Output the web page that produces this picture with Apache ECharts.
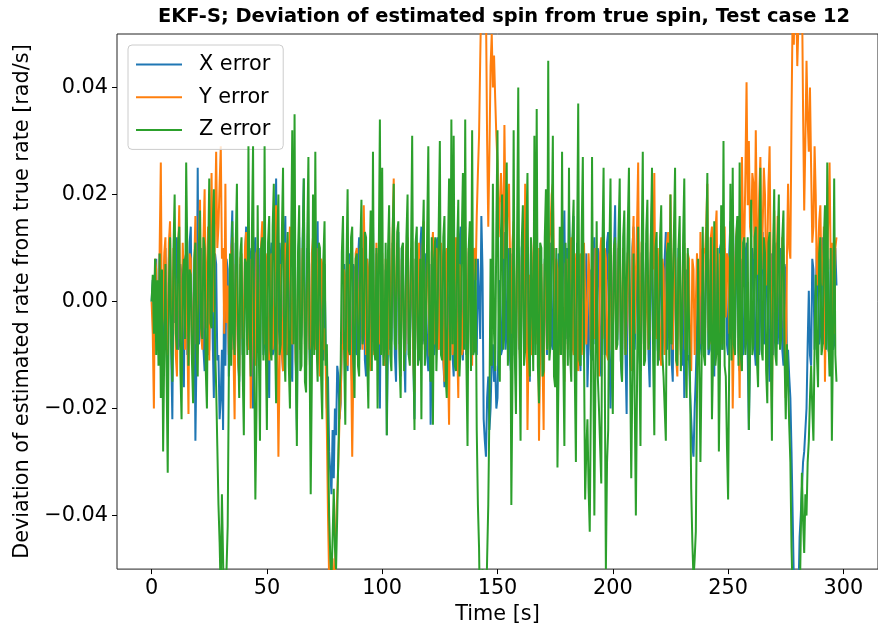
<!DOCTYPE html>
<html>
<head>
<meta charset="utf-8">
<script src="https://cdn.jsdelivr.net/npm/echarts@6/dist/echarts.min.js"></script>
<style>
html,body{margin:0;padding:0;background:#fff;}
#chart{width:878px;height:630px;}
</style>
</head>
<body>
<div id="chart"></div>
<script>
const titleText = 'EKF-S; Deviation of estimated spin from true spin, Test case 12';
const xAxisName = 'Time [s]';
const yAxisName = 'Deviation of estimated rate from true rate [rad/s]';
const seriesNames = ['X error', 'Y error', 'Z error'];
const xTickValues = [0, 50, 100, 150, 200, 250, 300];
const yTickValues = [-0.04, -0.02, 0.00, 0.02, 0.04];
const timeStart = 0;
const timeStep = 0.5;

const xError = [
0,.004,-.003,.006,.008,-.007,-.005,.009,.006,-.008,-.009,.007,.010,-.006,-.014,.008,.013,-.009,-.022,.006,
-.004,.010,.012,-.009,-.008,.007,.005,-.011,-.016,.008,.009,-.010,-.003,.011,.014,-.008,-.011,.006,-.026,-.009,
.025,-.008,-.006,.010,.010,-.009,-.013,.007,.004,-.010,-.009,.011,.015,-.007,-.018,.009,.007,-.011,-.010,-.022,
-.018,-.009,-.024,.006,-.012,.008,.006,-.014,-.008,.010,.017,-.009,-.005,.011,.011,-.010,-.015,.007,.003,-.010,
-.009,.008,.014,-.007,-.006,.010,.008,-.011,-.020,.009,.012,-.008,-.003,.010,-.014,.007,.009,-.010,-.007,.008,
.005,-.009,-.018,.008,.011,-.010,-.009,.007,.023,-.008,-.004,.011,.007,-.009,-.013,.010,.016,-.007,-.010,.009,
.002,-.011,-.015,.009,.009,-.010,-.024,.008,.012,-.009,-.006,.011,.023,-.008,-.011,.010,.004,-.009,-.017,.007,
.010,-.008,-.008,.009,.015,-.010,-.012,.006,.003,-.011,.007,-.009,-.020,-.014,-.028,-.032,-.036,-.024,-.033,-.020,
-.025,-.012,-.014,-.022,-.019,-.006,-.008,.007,.003,-.010,-.013,.008,.009,-.011,-.016,.007,.006,-.009,-.010,.008,
.012,-.009,-.005,.010,.008,-.011,-.014,.008,.004,-.010,-.009,.011,.015,-.008,-.006,.009,.002,-.011,-.020,.006,
.007,-.009,-.012,.006,-.025,-.008,.010,-.009,-.007,.011,.005,-.010,-.015,.009,.013,-.008,-.004,.010,.008,-.009,
-.017,.008,.011,-.010,-.009,.009,.003,-.011,-.022,.008,.006,-.009,-.011,.010,.014,-.008,-.006,.009,.009,-.010,
-.013,.007,-.023,-.009,.005,-.010,-.008,.011,.012,-.009,-.004,.010,.007,-.011,-.016,.008,.010,-.009,-.002,.010,
.006,-.010,-.014,.008,.009,-.009,-.005,.011,.014,-.008,-.011,.009,.003,-.010,-.008,.009,.012,-.010,-.006,.008,
.005,-.009,-.010,.008,.008,-.007,.016,.006,-.022,-.026,-.029,-.018,-.014,-.024,-.020,-.011,-.008,-.015,-.012,-.020,
-.018,-.006,.004,-.010,-.009,.008,.013,-.009,-.005,.010,.008,-.011,-.014,.009,.006,-.010,-.011,.008,.010,-.009,
-.007,.010,.012,-.009,-.004,.008,.009,-.011,-.015,.009,.005,-.010,-.010,.011,.013,-.008,-.006,.010,.003,-.009,
-.012,.008,.008,-.010,-.003,.009,.011,-.008,-.009,.010,.004,-.011,-.014,.009,.007,-.010,-.002,.008,.017,-.007,
.010,-.008,.017,.006,-.006,.010,.016,-.009,-.008,.011,.005,-.010,-.013,.008,.009,-.011,-.004,.009,-.016,-.008,
.006,-.010,-.011,.009,.012,-.008,-.005,.010,.008,-.011,-.014,.009,.003,-.010,-.008,.011,.013,-.009,-.020,-.010,
-.010,.009,.018,-.008,-.007,.010,.009,-.011,-.015,.008,.004,-.010,-.021,.009,.011,-.008,-.005,.010,.014,-.009,
-.009,.008,.006,-.010,-.013,.009,.010,-.008,-.003,.011,.007,-.010,-.016,.009,.012,-.008,-.006,.010,.002,-.009,
-.011,.009,.008,-.010,-.004,.008,.013,-.009,-.009,.010,.005,-.011,-.015,.009,.010,-.008,-.007,.010,.004,-.009,
-.012,.006,-.018,-.008,.006,-.011,-.010,-.017,-.022,-.027,-.029,-.020,-.014,-.005,.003,-.010,-.008,.009,.010,-.008,
-.005,.009,.012,-.010,-.009,.008,.004,-.011,-.014,.009,.008,-.010,-.006,.010,.011,-.009,-.003,.010,.007,-.008,
-.010,.009,.015,-.007,.018,.005,-.007,.010,.009,-.009,-.013,.008,.005,-.010,-.008,.009,.011,-.010,-.024,-.009,
-.004,.010,.008,-.009,-.012,.008,.006,-.010,-.010,.009,.013,-.008,-.006,.010,.003,-.009,-.015,.008,.009,-.010,
-.007,.009,.011,-.008,-.003,.010,.008,-.009,-.012,.007,.005,-.010,-.009,-.014,-.018,-.028,-.040,-.052,-.058,-.066,
-.062,-.055,-.044,-.040,-.035,-.030,-.028,-.024,-.020,-.008,.002,-.010,-.012,.008,.006,-.009,-.009,.010,.010,-.008,
-.006,.009,.012,-.008,-.004,.010,.008,-.009,-.010,.008,.005,-.009,-.008,.010,.003
];

const yError = [
0,-.006,-.020,.008,.006,-.009,-.008,.010,.026,-.005,-.003,.009,.012,-.008,-.010,.011,.015,-.007,-.005,.010,
.009,-.010,-.014,.008,.018,-.007,-.006,.011,.004,-.009,.013,-.006,-.021,.009,.008,-.010,-.012,.007,.016,-.008,
-.007,.011,.019,-.006,-.009,.012,.021,-.005,.005,.014,-.011,.008,.024,.006,-.002,.015,.028,.010,.014,.022,
.029,.008,.010,-.006,.022,-.004,.003,-.010,-.008,.009,.012,-.009,-.022,.007,.006,-.011,-.014,.008,.009,-.007,
-.005,.010,.013,-.008,-.009,.008,-.020,-.007,.007,-.010,-.012,.009,.010,-.008,-.004,.011,.015,-.006,-.008,.009,
.006,-.010,-.011,.008,.009,-.009,-.006,.010,.018,-.008,-.029,-.012,.007,-.009,-.013,.008,.011,-.010,-.005,.009,
.014,-.007,-.008,.010,.004,-.011,-.016,.007,.010,-.009,-.003,.010,.008,-.010,-.012,.008,.005,-.009,-.007,.009,
.012,-.008,-.009,.010,.003,-.010,-.014,.008,.007,-.009,-.005,-.012,-.024,-.040,-.052,-.058,-.060,-.048,-.055,-.050,
-.042,-.036,-.030,-.022,-.018,-.008,-.009,.006,.004,-.010,-.012,.007,.006,-.010,-.029,-.012,-.008,.009,.010,-.007,
-.003,.010,.007,-.009,.018,.006,-.010,.008,.005,-.011,-.013,.007,.008,-.010,-.004,.011,.011,-.008,-.006,.010,
.009,-.009,-.012,.008,.004,-.010,.014,-.007,-.007,.012,.023,-.005,-.002,.011,.010,-.009,-.014,.008,.006,-.010,
-.009,.010,.012,-.008,-.005,.010,.008,-.011,-.017,.008,.003,-.009,.011,-.007,-.008,.010,.015,-.009,-.004,.010,
.007,-.010,-.011,.009,.013,-.008,-.006,.010,.009,-.009,-.003,.011,.005,-.010,-.015,.008,.010,-.011,-.023,.006,
.004,-.010,-.007,.010,.012,-.008,-.018,.007,.006,-.010,-.009,.009,.014,-.008,-.005,.010,.008,-.009,-.012,.009,
.010,.004,.016,.024,.031,.045,.058,.065,.062,.060,.055,.030,.014,.028,.044,.050,.040,.046,.038,.031,
.026,.012,.012,.024,.018,.008,.033,.015,.009,.020,.022,.006,-.006,.011,.015,-.004,-.010,.009,.008,-.008,
-.014,.008,.011,-.007,.022,.006,-.024,-.008,.005,-.010,-.009,.009,.013,-.008,-.004,.010,-.026,-.009,.007,-.010,
-.024,.007,.010,-.009,-.007,.011,.014,.020,.022,.005,-.012,.008,.006,-.010,-.003,.009,.009,-.008,-.015,.007,
.008,-.009,-.005,.010,.012,-.008,-.010,.009,.004,-.011,-.013,.008,.009,-.010,-.006,.011,.011,-.008,-.008,.009,
.003,-.009,.012,-.006,-.007,.010,.010,-.008,-.014,.009,.012,-.007,-.004,.010,.008,-.010,-.011,.009,.006,-.009,
-.008,.010,.011,-.009,-.005,.010,.014,-.007,-.009,.010,.007,-.010,-.003,.009,.010,-.011,-.013,.008,.016,-.006,
.005,.014,.026,-.004,-.006,.011,.012,-.009,-.010,.008,.008,-.009,-.004,.012,.019,.006,.024,-.003,-.007,.010,
.010,-.009,-.012,.008,.006,-.010,-.003,.011,.013,-.004,.020,.005,-.009,.010,.005,-.011,-.014,.008,.009,-.010,
-.006,.010,.011,-.009,-.004,.009,.008,-.011,-.013,.008,.006,-.010,-.010,.009,.003,-.008,.013,.004,-.005,.010,
.009,.014,.022,-.005,-.008,.012,.014,-.004,-.006,.013,.017,-.003,-.011,.009,.005,-.008,.010,.014,-.003,.009,
.008,-.006,.013,.003,-.020,-.005,.006,.012,.015,-.004,-.018,.009,.027,.012,.010,.024,.041,.018,.030,.014,
.012,.024,.022,.008,.032,.014,.005,.020,.027,.006,.014,.025,.020,.003,.009,.022,.029,.004,-.020,.006,
.017,-.002,.006,.016,.013,-.004,-.005,.012,.010,-.006,-.018,.008,.022,.010,.008,.035,.055,.048,.063,.058,
.044,.052,.058,.064,.060,.036,.017,.030,.045,.034,.028,.040,.025,.011,.014,.029,.020,.003,.008,.015,
.018,.004,.003,.014,-.015,.002,.009,.016,.026,.006,.011,-.004,-.006,.010,.012
];

const zError = [
0,.005,-.006,.008,-.010,.004,-.012,.009,-.018,.006,-.028,-.009,.007,-.014,-.032,.003,.012,-.008,-.015,.010,
.020,-.006,-.009,.011,.014,-.013,-.022,.004,.008,-.007,.026,.009,-.012,.006,.005,-.011,-.019,.008,.011,-.009,
-.014,.010,.017,-.005,-.007,.012,.010,-.013,-.020,.007,.023,-.004,-.005,.014,.021,-.008,-.016,-.027,-.038,-.045,
-.055,-.036,-.048,-.060,-.058,-.050,-.042,-.014,.009,-.012,.015,-.006,-.010,.011,.022,-.007,-.018,.009,.012,-.013,
-.025,.008,.007,-.010,.029,-.005,-.014,.013,.029,-.012,-.037,-.020,.018,-.009,-.026,.010,.012,-.011,.029,-.008,
-.024,.011,.016,-.009,-.011,.014,.022,-.006,-.019,.012,.020,-.010,-.008,.013,.025,-.009,-.015,.007,.013,-.012,
-.020,.010,.032,-.008,.035,-.011,-.027,.009,.018,-.013,-.012,.010,.023,-.015,-.017,.012,.027,-.009,-.036,-.014,
.020,-.010,.028,-.007,-.015,.011,.010,-.014,-.022,.008,.015,-.012,-.008,-.025,-.040,-.048,-.052,-.044,-.035,-.046,
-.050,-.040,-.028,-.018,-.012,.009,.016,-.010,-.023,.007,.021,-.009,-.010,.012,.014,-.011,-.018,.008,.009,-.012,
-.014,.010,.019,-.008,-.006,.013,.012,-.011,-.020,.006,.017,-.013,.028,-.009,-.011,.010,-.020,.008,.034,-.010,
.025,-.012,-.008,.011,-.025,.009,.018,-.010,-.013,.012,.022,-.008,-.009,.013,.015,-.011,-.018,.010,.011,-.013,
-.006,.012,.020,-.010,-.012,.009,.031,-.008,-.024,.011,.014,-.012,-.010,.008,-.022,.010,.019,-.012,-.007,.013,
.029,-.009,-.015,.012,-.023,.008,.012,-.013,-.004,.014,.030,-.010,-.011,.012,.016,-.014,-.018,.009,.023,-.011,
.034,-.008,.031,-.012,-.013,.010,.019,-.014,-.008,.012,.024,-.009,.034,-.011,-.027,.010,.015,-.013,.032,-.010,
-.009,.008,-.024,-.038,-.046,-.062,-.058,-.050,-.055,-.064,-.060,-.048,-.038,-.020,.008,-.012,.022,-.006,-.013,.014,
.032,-.011,-.015,.013,.020,-.009,-.006,.014,.026,-.012,-.012,.010,-.038,-.014,.032,-.010,-.021,.012,.040,-.009,
-.026,.011,.018,-.012,-.009,.013,.024,-.008,-.014,.012,.012,-.013,.031,-.010,.036,-.012,-.019,.011,.010,-.014,
-.013,.012,.021,-.009,.045,-.011,-.008,.013,.031,-.014,-.016,.010,-.031,-.012,.014,-.010,.028,-.009,-.027,.011,
.011,-.012,.025,-.010,-.015,.012,.019,-.013,-.030,.009,.037,-.011,-.012,.013,.027,-.009,-.037,-.028,-.022,-.035,
-.043,-.018,.027,-.010,-.040,-.012,.015,-.014,-.020,-.027,-.034,.010,.025,-.012,-.050,-.030,-.024,.009,.023,-.011,
-.021,.010,.012,-.009,-.008,.013,.023,-.011,-.015,.012,.017,-.010,-.010,.014,.025,-.012,-.033,-.014,.009,-.018,
-.040,-.016,.014,-.010,-.027,.009,.028,-.012,-.011,.013,.019,-.009,-.006,.012,.025,-.011,-.025,.010,.013,-.012,
-.009,.012,.018,-.010,-.014,-.020,-.026,.009,.011,-.012,.020,-.008,-.008,.013,.025,-.011,-.012,.010,.016,-.013,
-.006,.012,.023,-.009,-.018,.010,.010,-.015,-.035,-.045,-.052,-.048,-.043,-.018,.008,-.012,-.030,-.012,.014,-.010,
-.012,.011,.024,-.009,-.007,.012,-.022,-.010,.015,-.012,-.009,.010,-.028,-.011,.018,-.009,.030,-.012,-.014,-.027,
-.037,-.010,.022,-.011,.025,-.008,-.010,.012,.016,-.012,.026,-.010,-.013,.011,.012,-.010,-.006,.012,-.024,-.009,
.019,-.010,-.008,.012,.014,-.011,-.016,.010,.025,-.009,-.011,.012,.009,-.013,-.019,.011,.013,-.010,-.026,.009,
.021,-.010,-.012,.011,.020,-.009,-.007,.012,.017,-.011,-.022,-.008,-.014,-.023,-.030,-.046,-.055,-.062,-.060,-.056,
-.052,-.060,-.058,-.044,-.032,-.041,-.047,-.036,-.040,-.030,-.026,-.018,-.012,-.020,-.026,-.008,.005,-.010,-.016,.009,
.012,-.010,-.008,.011,.018,-.009,.026,-.007,-.014,.010,-.026,-.006,.023,-.010,-.015
];

const seriesValues = [xError, yError, zError];
const seriesColors = ['#1f77b4', '#ff7f0e', '#2ca02c'];
const FONT = 'DejaVu Sans';

function toPairs(vals) {
  return vals.map((v, i) => [timeStart + i * timeStep, v]);
}
function fmtY(v) {
  const s = Math.abs(v).toFixed(2);
  return (v < -1e-9 ? '\u2212' : '') + s;
}

const chart = echarts.init(document.getElementById('chart'), null, {renderer: 'canvas'});
chart.setOption({
  animation: false,
  backgroundColor: '#ffffff',
  title: {
    text: titleText,
    left: 504,
    top: 7,
    textAlign: 'center',
    padding: 0,
    textStyle: {fontFamily: FONT, fontSize: 19.4, fontWeight: 'bold', color: '#000'}
  },
  legend: {
    data: seriesNames,
    orient: 'vertical',
    left: 128,
    top: 45,
    padding: [9, 13, 9, 8],
    icon: 'rect',
    itemWidth: 46,
    itemHeight: 2,
    itemGap: 11.7,
    backgroundColor: 'rgba(255,255,255,0.8)',
    borderColor: '#cccccc',
    borderWidth: 1,
    borderRadius: 4,
    textStyle: {fontFamily: FONT, fontSize: 20.8, color: '#000', padding: [0, 0, 0, 12]}
  },
  grid: {
    left: 117,
    top: 34,
    width: 776,
    height: 537,
    show: true,
    borderColor: '#222',
    borderWidth: 1,
    backgroundColor: 'transparent',
    containLabel: false
  },
  xAxis: {
    type: 'value',
    min: -15,
    max: 315,
    name: xAxisName,
    nameLocation: 'middle',
    nameGap: 33,
    nameTextStyle: {fontFamily: FONT, fontSize: 20.8, color: '#000'},
    axisLine: {show: false, onZero: false},
    splitLine: {show: false},
    axisTick: {show: true, length: 5, lineStyle: {color: '#000', width: 1}, customValues: xTickValues},
    axisLabel: {fontFamily: FONT, fontSize: 20.8, color: '#000', margin: 9, customValues: xTickValues,
      formatter: v => String(v)}
  },
  yAxis: {
    type: 'value',
    min: -0.05,
    max: 0.05,
    name: yAxisName,
    nameLocation: 'middle',
    nameGap: 84,
    nameTextStyle: {fontFamily: FONT, fontSize: 20.8, color: '#000'},
    axisLine: {show: false, onZero: false},
    splitLine: {show: false},
    axisTick: {show: true, length: 5, lineStyle: {color: '#000', width: 1}, customValues: yTickValues},
    axisLabel: {fontFamily: FONT, fontSize: 20.8, color: '#000', margin: 9, customValues: yTickValues,
      formatter: fmtY}
  },
  series: seriesNames.map((name, k) => ({
    name: name,
    type: 'line',
    data: toPairs(seriesValues[k]),
    showSymbol: false,
    symbol: 'none',
    clip: true,
    color: seriesColors[k],
    lineStyle: {color: seriesColors[k], width: 2},
    emphasis: {disabled: true},
    z: 2 + k
  }))
});
</script>
</body>
</html>
